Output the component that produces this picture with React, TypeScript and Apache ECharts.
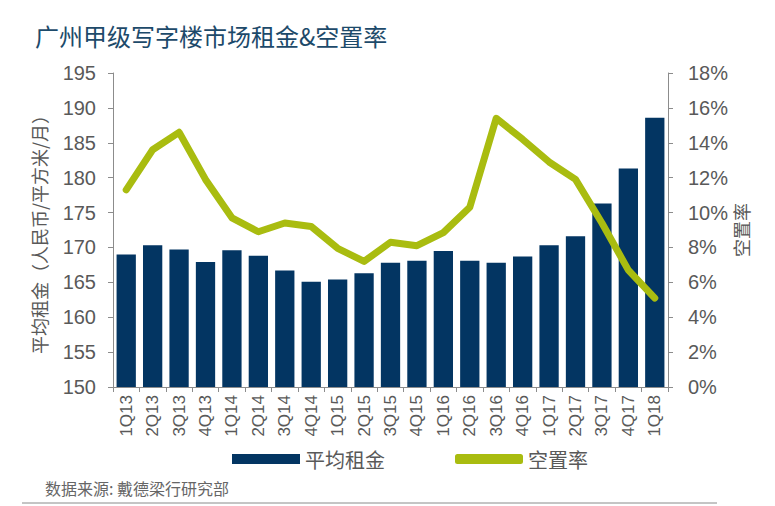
import React, { useEffect, useRef } from "react";
import * as echarts from "echarts";

const categories = ["1Q13","2Q13","3Q13","4Q13","1Q14","2Q14","3Q14","4Q14","1Q15","2Q15","3Q15","4Q15","1Q16","2Q16","3Q16","4Q16","1Q17","2Q17","3Q17","4Q17","1Q18"];
const rentValues = [169.0,170.3,169.7,167.9,169.6,168.8,166.7,165.1,165.4,166.3,167.8,168.1,169.5,168.1,167.8,168.7,170.3,171.6,176.3,181.3,188.6];
const vacancyValues = [11.3,13.6,14.6,11.9,9.7,8.9,9.4,9.2,7.95,7.2,8.3,8.1,8.85,10.3,15.4,14.2,12.9,11.9,9.4,6.7,5.1];

const title = "广州甲级写字楼市场租金&空置率";
const source = "数据来源: 戴德梁行研究部";
const FONT = "'Liberation Sans', Arial, 'Noto Sans CJK SC', sans-serif";
const CJK = "'Noto Sans CJK SC', sans-serif";
const GRAY = "#595959";
const AXIS = "#8c8c8c";

export default function App() {
  const ref = useRef<HTMLDivElement>(null);
  useEffect(() => {
    if (!ref.current) return;
    const chart = echarts.init(ref.current, undefined, { renderer: "svg" });
    chart.setOption({
      animation: false,
      backgroundColor: "#ffffff",
      textStyle: { fontFamily: FONT },
      title: {
        text: title,
        left: 30,
        top: 18,
        textStyle: { fontSize: 24, fontWeight: "normal", color: "#1d4a6a", fontFamily: CJK },
      },
      grid: { left: 113, right: 107, top: 73, bottom: 119 },
      legend: {
        left: 232,
        top: 449,
        padding: 0,
        itemWidth: 68,
        itemHeight: 10,
        itemGap: 70,
        textStyle: { fontSize: 20, color: GRAY, fontFamily: CJK },
        data: [
          { name: "平均租金", icon: "rect" },
          { name: "空置率", icon: "roundRect", itemStyle: { color: "#a9bc10" } },
        ],
      },
      xAxis: {
        type: "category",
        data: categories,
        axisLine: { lineStyle: { color: AXIS, width: 1 } },
        axisTick: { show: true, length: 5, lineStyle: { color: AXIS } },
        axisLabel: { rotate: 90, fontSize: 17, color: GRAY, margin: 8, fontFamily: FONT },
      },
      yAxis: [
        {
          type: "value",
          min: 150,
          max: 195,
          interval: 5,
          name: "平均租金（人民币/平方米/月）",
          nameLocation: "middle",
          nameRotate: 90,
          nameGap: 65,
          nameMoveOverlap: false,
          nameTextStyle: { fontSize: 18, color: GRAY, fontFamily: CJK },
          axisLine: { show: true, lineStyle: { color: AXIS } },
          axisTick: { show: true, length: 5, lineStyle: { color: AXIS } },
          axisLabel: { fontSize: 20, color: GRAY, margin: 17, fontFamily: FONT },
          splitLine: { show: false },
        },
        {
          type: "value",
          min: 0,
          max: 18,
          interval: 2,
          name: "空置率",
          nameLocation: "middle",
          nameRotate: 90,
          nameGap: 64,
          nameMoveOverlap: false,
          nameTextStyle: { fontSize: 18, color: GRAY, fontFamily: CJK },
          axisLine: { show: true, lineStyle: { color: AXIS } },
          axisTick: { show: true, length: 5, lineStyle: { color: AXIS } },
          axisLabel: { fontSize: 20, color: GRAY, margin: 20, formatter: "{value}%", fontFamily: FONT },
          splitLine: { show: false },
        },
      ],
      series: [
        {
          name: "平均租金",
          type: "bar",
          data: rentValues,
          yAxisIndex: 0,
          barCategoryGap: "27%",
          itemStyle: { color: "#033562" },
        },
        {
          name: "空置率",
          type: "line",
          data: vacancyValues,
          yAxisIndex: 1,
          symbol: "none",
          lineStyle: { color: "#a9bc10", width: 7, cap: "round", join: "round" },
          itemStyle: { color: "#a9bc10" },
        },
      ],
      graphic: [
        {
          type: "text",
          left: 45,
          top: 480,
          style: { text: source, fontSize: 16, fill: "#666666", fontFamily: CJK },
        },
        {
          type: "line",
          shape: { x1: 22, y1: 503, x2: 717, y2: 503 },
          style: { stroke: "#8a8a8a", lineWidth: 1 },
        },
      ],
    });
    return () => chart.dispose();
  }, []);
  return <div ref={ref} style={{ position: "absolute", left: 0, top: 0, width: 775, height: 506 }} />;
}
